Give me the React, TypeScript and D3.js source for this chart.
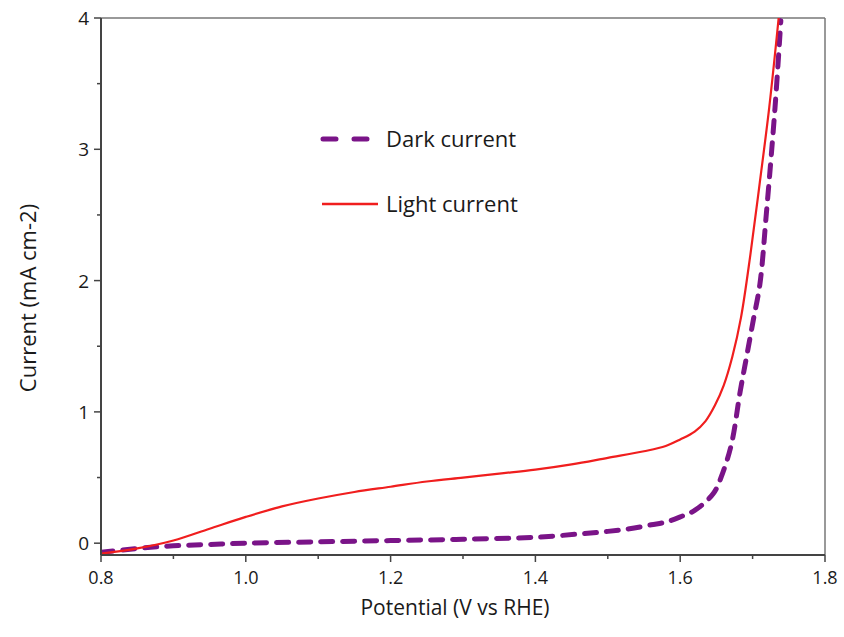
import React from "react";
import * as d3 from "d3";

const xTicks = [0.8, 1.0, 1.2, 1.4, 1.6, 1.8];
const xMinor = [0.9, 1.1, 1.3, 1.5, 1.7];
const yTicks = [0, 1, 2, 3, 4];
const yMinor = [0.5, 1.5, 2.5, 3.5];

const lightX = [0.8, 0.85, 0.9, 0.95, 1.0, 1.05, 1.1, 1.15, 1.2, 1.25, 1.3, 1.35, 1.4, 1.45, 1.5, 1.55, 1.58, 1.6, 1.62, 1.635, 1.648, 1.66, 1.672, 1.684, 1.697, 1.71, 1.723, 1.736];
const lightY = [-0.08, -0.04, 0.02, 0.11, 0.2, 0.28, 0.34, 0.39, 0.43, 0.47, 0.5, 0.53, 0.56, 0.6, 0.65, 0.7, 0.74, 0.79, 0.85, 0.93, 1.05, 1.2, 1.42, 1.72, 2.2, 2.75, 3.32, 4.0];

const darkX = [0.8, 0.85, 0.9, 0.95, 1.0, 1.1, 1.2, 1.3, 1.4, 1.46, 1.5, 1.53, 1.56, 1.58, 1.6, 1.62, 1.646, 1.659, 1.671, 1.683, 1.692, 1.701, 1.71, 1.719, 1.731, 1.739];
const darkY = [-0.07, -0.04, -0.02, -0.01, 0.0, 0.01, 0.02, 0.03, 0.045, 0.07, 0.09, 0.11, 0.14, 0.16, 0.2, 0.25, 0.38, 0.54, 0.76, 1.16, 1.43, 1.7, 1.97, 2.51, 3.32, 3.98];

const seriesNames = ["Dark current", "Light current"];

const W = 844, H = 637;
const L = 101, R = 825, T = 18, B = 555;
const FONT = "'Open Sans', sans-serif";
const TXT = "#1a1a1a";

export default function App() {
  const x = d3.scaleLinear().domain([0.8, 1.8]).range([L, R]);
  const y = d3.scaleLinear().domain([-0.09, 4]).range([B, T]);
  const line = d3.line<[number, number]>().x(d => x(d[0])).y(d => y(d[1])).curve(d3.curveCatmullRom.alpha(0.5));
  const light = lightX.map((v, i) => [v, lightY[i]] as [number, number]);
  const dark = darkX.map((v, i) => [v, darkY[i]] as [number, number]);
  const red = "#f01e1e";
  const purple = "#7a1488";
  return (
    <svg width={W} height={H} style={{ position: "absolute", left: 0, top: 0, background: "#fff" }}>
      <defs>
        <clipPath id="clip"><rect x={L} y={T - 2} width={R - L} height={B - T + 2} /></clipPath>
      </defs>
      <rect x={0} y={0} width={W} height={H} fill="#fff" />
      <line x1={L} x2={R} y1={T} y2={T} stroke="#777" strokeWidth={1.5} />
      <line x1={R} x2={R} y1={T} y2={B} stroke="#777" strokeWidth={1.5} />
      <g clipPath="url(#clip)">
        <path d={line(dark) || ""} fill="none" stroke={purple} strokeWidth={5} strokeDasharray="12 10" strokeLinecap="round" />
        <path d={line(light) || ""} fill="none" stroke={red} strokeWidth={2.2} />
      </g>
      <line x1={L} x2={R} y1={B} y2={B} stroke="#444" strokeWidth={2} />
      <line x1={L} x2={L} y1={T} y2={B} stroke="#444" strokeWidth={2} />
      {xTicks.map(t => (
        <g key={"xt" + t}>
          <line x1={x(t)} x2={x(t)} y1={B} y2={B + 7} stroke="#444" strokeWidth={1.5} />
          <text x={x(t)} y={584} textAnchor="middle" fontFamily={FONT} fontSize={18} fill={TXT}>{t.toFixed(1)}</text>
        </g>
      ))}
      {xMinor.map(t => (
        <line key={"xm" + t} x1={x(t)} x2={x(t)} y1={B} y2={B + 4} stroke="#444" strokeWidth={1.5} />
      ))}
      {yTicks.map(t => (
        <g key={"yt" + t}>
          <line x1={L - 7} x2={L} y1={y(t)} y2={y(t)} stroke="#444" strokeWidth={1.5} />
          <text x={L - 12} y={y(t) + 7} textAnchor="end" fontFamily={FONT} fontSize={19} fill={TXT}>{t}</text>
        </g>
      ))}
      {yMinor.map(t => (
        <line key={"ym" + t} x1={L - 4} x2={L} y1={y(t)} y2={y(t)} stroke="#444" strokeWidth={1.5} />
      ))}
      <text x={455} y={615} textAnchor="middle" fontFamily={FONT} fontSize={21} fill={TXT}>Potential (V vs RHE)</text>
      <text transform={`translate(36, 298) rotate(-90)`} textAnchor="middle" fontFamily={FONT} fontSize={22} fill={TXT}>Current (mA cm-2)</text>
      <line x1={323} x2={378} y1={139} y2={139} stroke={purple} strokeWidth={5} strokeDasharray="13 18" strokeLinecap="round" />
      <text x={386} y={147} fontFamily={FONT} fontSize={22} fill={TXT}>{seriesNames[0]}</text>
      <line x1={322} x2={378} y1={204} y2={204} stroke={red} strokeWidth={2.5} />
      <text x={386} y={212} fontFamily={FONT} fontSize={22} fill={TXT}>{seriesNames[1]}</text>
    </svg>
  );
}
